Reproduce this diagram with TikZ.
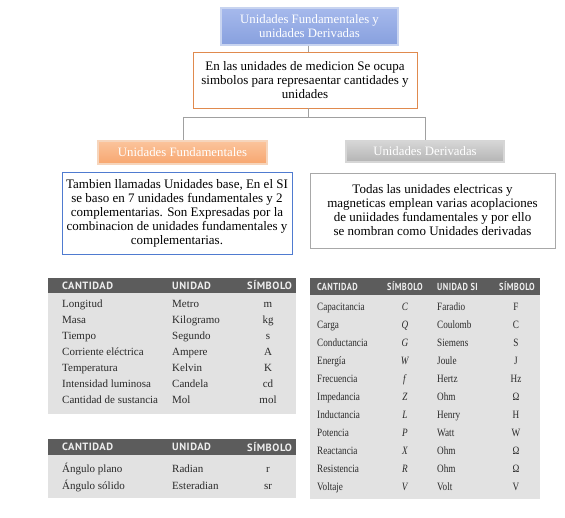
\documentclass[tikz,border=0pt]{standalone}
\usepackage{fontspec}
\setmainfont{Liberation Serif}
\newfontfamily\hdrfont[LetterSpace=5]{PT Sans}
\newfontfamily\condfont[FakeStretch=0.82]{Liberation Serif}
\newfontfamily\condhdr[FakeStretch=0.82,LetterSpace=4]{PT Sans}
\definecolor{topblue}{HTML}{87A0DE}
\definecolor{topbluel}{HTML}{A6B9EC}
\definecolor{topedge}{HTML}{C8D4F0}
\definecolor{orgbord}{HTML}{E08A4E}
\definecolor{orgfill}{HTML}{F7A66F}
\definecolor{orgfilll}{HTML}{FBC49C}
\definecolor{orgedge}{HTML}{F6D5BC}
\definecolor{bluebord}{HTML}{4F7BD0}
\definecolor{grayfill}{HTML}{B4B4B4}
\definecolor{grayfilll}{HTML}{D6D6D6}
\definecolor{graybord}{HTML}{A8A8A8}
\definecolor{linegray}{HTML}{A0A0A0}
\definecolor{tabhead}{HTML}{5C5C5C}
\definecolor{tabbody}{HTML}{E2E2E2}
\definecolor{tabtext}{HTML}{2A2A2A}
\definecolor{tabhtext}{HTML}{EEEEEE}
\tikzset{
  titlebox/.style={draw=topedge, line width=1.2pt, top color=topbluel, bottom color=topblue,
    text=white, align=center, minimum width=177pt, minimum height=37pt, inner sep=2pt,
    font=\fontsize{12.8}{14}\selectfont},
  infobox/.style={draw=#1, line width=0.9pt, fill=white, align=center, inner sep=2pt,
    font=\fontsize{13}{14}\selectfont, text=black},
  orghead/.style={draw=orgedge, line width=1.2pt, top color=orgfilll, bottom color=orgfill,
    text=white, minimum width=169pt, minimum height=23pt, inner sep=1pt,
    font=\fontsize{12.8}{14}\selectfont},
  grayhead/.style={draw=grayfilll, line width=1.2pt, top color=grayfilll, bottom color=grayfill,
    text=white, minimum width=158pt, minimum height=21pt, inner sep=1pt,
    font=\fontsize{12.8}{14}\selectfont},
  conn/.style={draw=linegray, line width=0.9pt},
  thead/.style={fill=tabhead, draw=none},
  tbody/.style={fill=tabbody, draw=none},
  hcell/.style={text=tabhtext, inner sep=0pt, font=\hdrfont\bfseries\fontsize{10.5}{11}\selectfont},
  hcellc/.style={text=tabhtext, inner sep=0pt, font=\condhdr\bfseries\fontsize{10.2}{11}\selectfont},
  cell/.style={text=tabtext, inner sep=0pt, text height=1.5ex, text depth=0.3ex,
    font=\fontsize{11}{12}\selectfont},
  cellc/.style={text=tabtext, inner sep=0pt, text height=1.5ex, text depth=0.3ex,
    font=\condfont\fontsize{11.2}{12}\selectfont},
}
\begin{document}
\begin{tikzpicture}[x=1pt,y=-1pt]
\useasboundingbox (0,0) rectangle (565,518);
\fill[white] (0,0) rectangle (565,518);

\coordinate (split) at (308,117);
\coordinate (lsplit) at (183,117);
\coordinate (rsplit) at (425,117);

\node[titlebox] (top) at (309.5,26.5) {Unidades Fundamentales y\\unidades Derivadas};
\node[infobox=orgbord, minimum width=224pt, minimum height=56pt] (def) at (305,80)
  {En las unidades de medicion Se ocupa\\simbolos para represaentar cantidades y\\unidades};
\node[orghead] (fund) at (182.5,152.5) {Unidades Fundamentales};
\node[grayhead] (deriv) at (425,151.5) {Unidades Derivadas};
\node[infobox=bluebord, minimum width=230pt, minimum height=82pt] (fdesc) at (177,213)
  {Tambien llamadas Unidades base, En el SI\\se baso en 7 unidades fundamentales y 2\\complementarias. Son Expresadas por la\\combinacion de unidades fundamentales y\\complementarias.};
\node[infobox=graybord, minimum width=245pt, minimum height=75pt] (ddesc) at (432.5,210.5)
  {Todas las unidades electricas y\\magneticas emplean varias acoplaciones\\de uniidades fundamentales y por ello\\se nombran como Unidades derivadas};

\draw[conn] (top.south -| split) -- (def.north -| split);
\draw[conn] (def.south -| split) -- (split);
\draw[conn] (lsplit) -- (rsplit);
\draw[conn] (lsplit) -- (fund.north -| lsplit);
\draw[conn] (rsplit) -- (deriv.north -| rsplit);

% Table 1
\node[tbody, inner sep=0pt, minimum width=248pt, minimum height=122pt, anchor=north west] (tab1) at (48,292) {};
\node[thead, inner sep=0pt, minimum width=248pt, minimum height=15pt, anchor=north west] (tab1h) at (48,278) {};
\node[hcell, anchor=west] (t1ha) at (62,285.5) {CANTIDAD};
\node[hcell, anchor=west] (t1hb) at (172,285.5) {UNIDAD};
\node[hcell, anchor=west] (t1hc) at (247,285.5) {SÍMBOLO};
\foreach [count=\i] \a/\b/\c in {Longitud/Metro/m, Masa/Kilogramo/kg, Tiempo/Segundo/s,
  Corriente eléctrica/Ampere/A, Temperatura/Kelvin/K, Intensidad luminosa/Candela/cd,
  Cantidad de sustancia/Mol/mol} {
  \node[cell, anchor=west] (t1a\i) at (62,{289+16*\i}) {\a};
  \node[cell, anchor=west] (t1b\i) at (172,{289+16*\i}) {\b};
  \node[cell] (t1c\i) at (268,{289+16*\i}) {\c};
}

% Table 2
\node[tbody, inner sep=0pt, minimum width=248pt, minimum height=44pt, anchor=north west] (tab2) at (48,454) {};
\node[thead, inner sep=0pt, minimum width=248pt, minimum height=16pt, anchor=north west] (tab2h) at (48,439) {};
\node[hcell, anchor=west] (t2ha) at (62,447) {CANTIDAD};
\node[hcell, anchor=west] (t2hb) at (172,447) {UNIDAD};
\node[hcell, anchor=west] (t2hc) at (247,447) {SÍMBOLO};
\foreach [count=\i] \a/\b/\c in {Ángulo plano/Radian/r, Ángulo sólido/Esteradian/sr} {
  \node[cell, anchor=west] (t2a\i) at (62,{453+17*\i}) {\a};
  \node[cell, anchor=west] (t2b\i) at (172,{453+17*\i}) {\b};
  \node[cell] (t2c\i) at (268,{453+17*\i}) {\c};
}

% Table 3
\node[tbody, inner sep=0pt, minimum width=230pt, minimum height=204pt, anchor=north west] (tab3) at (310,295) {};
\node[thead, inner sep=0pt, minimum width=230pt, minimum height=17pt, anchor=north west] (tab3h) at (310,278) {};
\node[hcellc, anchor=west] (t3ha) at (317,286.5) {CANTIDAD};
\node[hcellc] (t3hb) at (405,286.5) {SÍMBOLO};
\node[hcellc, anchor=west] (t3hc) at (437,286.5) {UNIDAD SI};
\node[hcellc] (t3hd) at (517,286.5) {SÍMBOLO};
\foreach [count=\i] \a/\b/\c/\d in {Capacitancia/C/Faradio/F, Carga/Q/Coulomb/C,
  Conductancia/G/Siemens/S, Energía/W/Joule/J, Frecuencia/f/Hertz/Hz,
  Impedancia/Z/Ohm/Ω, Inductancia/L/Henry/H, Potencia/P/Watt/W,
  Reactancia/X/Ohm/Ω, Resistencia/R/Ohm/Ω, Voltaje/V/Volt/V} {
  \node[cellc, anchor=west] (t3a\i) at (317,{290+18*\i}) {\a};
  \node[cellc] (t3b\i) at (405,{290+18*\i}) {\textit{\b}};
  \node[cellc, anchor=west] (t3c\i) at (437,{290+18*\i}) {\c};
  \node[cellc] (t3d\i) at (516,{290+18*\i}) {\d};
}
\end{tikzpicture}
\end{document}
